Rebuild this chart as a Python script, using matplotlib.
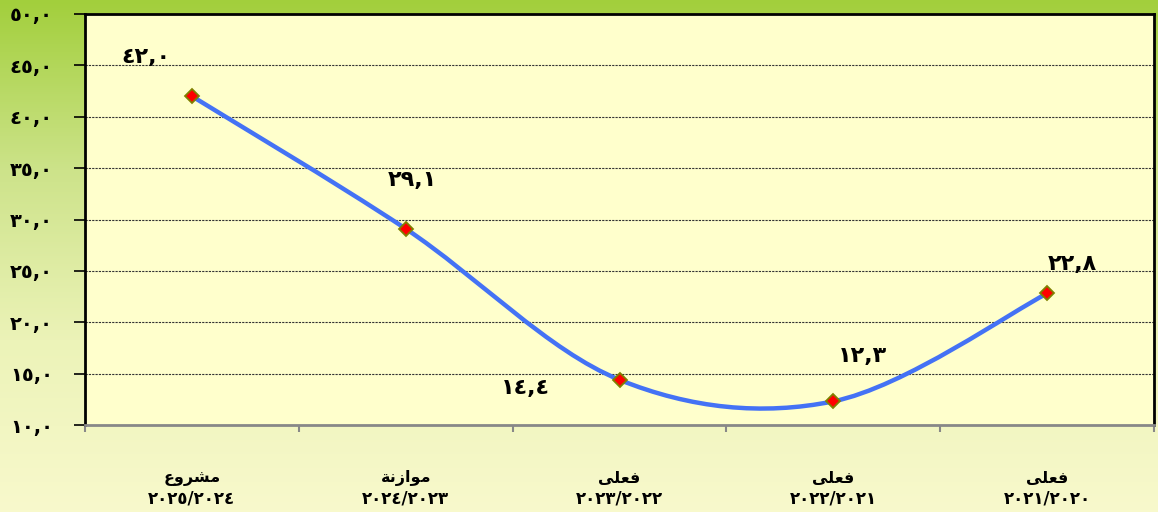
import numpy as np
import matplotlib
matplotlib.use("Agg")
import matplotlib.pyplot as plt
from matplotlib.path import Path
from matplotlib.patches import PathPatch
from matplotlib.colors import LinearSegmentedColormap

plt.rcParams['font.family'] = ['DejaVu Sans']

# data (categories read right-to-left in the original, drawn left-to-right here)
# labels pre-shaped with Arabic presentation forms, visual order
cat_top = ["\ufec9\ufeed\ufeae\ufeb8\ufee3",              # مشروع
           "\ufe94\ufee7\ufeaf\ufe8d\ufeee\ufee3",        # موازنة
           "\ufef0\ufee0\ufecc\ufed3",                    # فعلى
           "\ufef0\ufee0\ufecc\ufed3",
           "\ufef0\ufee0\ufecc\ufed3"]
cat_years = ["٢٠٢٥/٢٠٢٤", "٢٠٢٤/٢٠٢٣", "٢٠٢٣/٢٠٢٢", "٢٠٢٢/٢٠٢١", "٢٠٢١/٢٠٢٠"]
values = [42.0, 29.1, 14.4, 12.3, 22.8]
value_labels = ["٤٢,٠", "٢٩,١", "١٤,٤", "١٢,٣", "٢٢,٨"]
y_ticks = [10, 15, 20, 25, 30, 35, 40, 45, 50]
y_ticklabels = ["١٠,٠", "١٥,٠", "٢٠,٠", "٢٥,٠", "٣٠,٠", "٣٥,٠", "٤٠,٠", "٤٥,٠", "٥٠,٠"]

# label offsets in points
label_offsets = [(-33, 28), (5, 35), (-68, -6), (21, 33), (18, 21)]

fig = plt.figure(figsize=(11.58, 5.12), dpi=100)

# background gradient
bg = fig.add_axes([0, 0, 1, 1], zorder=-10)
grad = np.linspace(0, 1, 256).reshape(-1, 1)
cmap = LinearSegmentedColormap.from_list("bg", ["#a2cf3c", "#cde38a", "#ecf3b8", "#f8f9cc"])
bg.imshow(grad, aspect="auto", cmap=cmap, extent=[0, 1, 0, 1], origin="upper")
bg.axis("off")

ax = fig.add_axes([85 / 1158, 1 - 425 / 512, 1069 / 1158, 411 / 512])
ax.set_facecolor("#ffffcc")

x = np.arange(len(values))
y = np.array(values)

# smoothed line (Catmull-Rom as cubic Bezier segments, like Excel's smooth line)
pts = np.column_stack([x, y]).astype(float)
verts = [tuple(pts[0])]
codes = [Path.MOVETO]
n = len(pts)
for i in range(n - 1):
    p0 = pts[i - 1] if i > 0 else pts[i]
    p1 = pts[i]
    p2 = pts[i + 1]
    p3 = pts[i + 2] if i + 2 < n else pts[i + 1]
    c1 = p1 + (p2 - p0) / 6
    c2 = p2 - (p3 - p1) / 6
    verts += [tuple(c1), tuple(c2), tuple(p2)]
    codes += [Path.CURVE4] * 3
ax.add_patch(PathPatch(Path(verts, codes), facecolor="none", edgecolor="#4472f5",
                       lw=3.2, zorder=3, capstyle="round"))

ax.plot(x, y, linestyle="none", marker="D", markersize=7.5, markerfacecolor="#ff0000",
        markeredgecolor="#808000", markeredgewidth=1.3, zorder=4)

for xi, yi, lab, off in zip(x, y, value_labels, label_offsets):
    ax.annotate(lab, (xi, yi), xytext=off, textcoords="offset points",
                ha="center", va="center", fontsize=16, fontweight="bold", zorder=5)

ax.set_xlim(-0.5, 4.5)
ax.set_ylim(10, 50)

ax.set_yticks(y_ticks)
ax.set_yticklabels(y_ticklabels, fontsize=14, fontweight="bold")
ax.tick_params(axis="y", direction="out", length=8, width=1.2, color="black", pad=15)

ax.set_xticks(np.arange(-0.5, 5, 1))
ax.set_xticklabels([])
ax.tick_params(axis="x", direction="out", length=5, width=1.5, color="#888888")

for yv in y_ticks[1:-1]:
    ax.axhline(yv, color="#333333", lw=0.8, linestyle=(0, (2, 1)), zorder=1)

for s in ["left", "top", "right"]:
    ax.spines[s].set_color("black")
    ax.spines[s].set_linewidth(2)
ax.spines["bottom"].set_color("#888888")
ax.spines["bottom"].set_linewidth(2)

# category labels (two lines)
trans = ax.get_xaxis_transform()
for xi, top, yr in zip(x, cat_top, cat_years):
    ax.text(xi, -0.13, top, transform=trans, ha="center", va="center",
            fontsize=11.5, fontweight="bold")
    ax.text(xi, -0.18, yr, transform=trans, ha="center", va="center",
            fontsize=12, fontweight="bold")

fig.savefig("out.png", dpi=100)
